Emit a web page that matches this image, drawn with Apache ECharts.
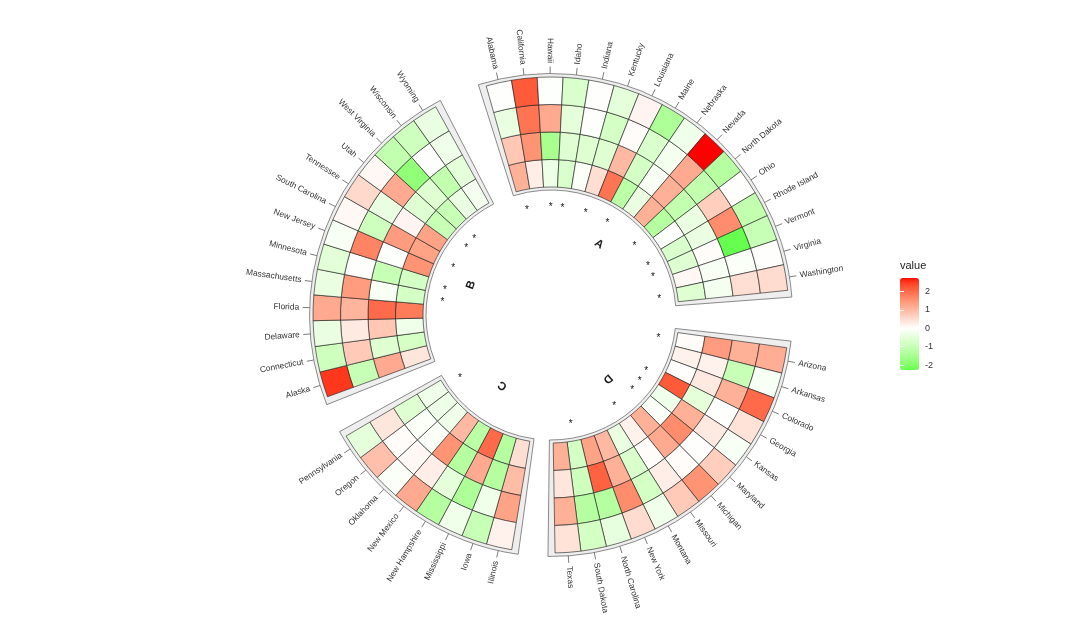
<!DOCTYPE html>
<html>
<head>
<meta charset="utf-8">
<style>html,body{margin:0;padding:0;background:#fff;}#chart{width:1080px;height:628px;}</style>
<script src="https://cdn.jsdelivr.net/npm/echarts@6/dist/echarts.min.js"></script>
</head>
<body>
<div id="chart"></div>
<script>
// ---------------- DATA ----------------
// sectors in clockwise order, states clockwise within each sector
const sectorNames = ['A', 'D', 'C', 'B'];
const statesA = ['Alabama','California','Hawaii','Idaho','Indiana','Kentucky','Louisiana','Maine','Nebraska','Nevada','North Dakota','Ohio','Rhode Island','Vermont','Virginia','Washington'];
const statesD = ['Arizona','Arkansas','Colorado','Georgia','Kansas','Maryland','Michigan','Missouri','Montana','New York','North Carolina','South Dakota','Texas'];
const statesC = ['Illinois','Iowa','Mississippi','New Hampshire','New Mexico','Oklahoma','Oregon','Pennsylvania'];
const statesB = ['Alaska','Connecticut','Delaware','Florida','Massachusetts','Minnesota','New Jersey','South Carolina','Tennessee','Utah','West Virginia','Wisconsin','Wyoming'];

// values per state: [ring1 (inner), ring2, ring3, ring4 (outer)]
const valuesA = [
  [1.1, 0.8, -0.4, 0.0],
  [0.25, 1.5, 1.9, 2.2],
  [-0.35, -1.5, 1.2, -0.05],
  [-0.7, -0.6, -0.5, -0.7],
  [-0.1, -0.6, 0.0, 0.0],
  [0.45, -0.6, -0.8, -0.5],
  [1.9, 1.0, 0.05, 0.15],
  [-1.2, -0.8, -0.7, -1.4],
  [-0.4, -0.15, -0.2, -0.3],
  [1.1, 1.1, 1.2, 2.73],
  [-1.3, -1.1, -1.1, -1.3],
  [-0.05, -0.4, 0.7, 0.0],
  [-0.7, -0.4, 1.6, -1.1],
  [-0.6, 0.05, -2.27, -1.0],
  [0.1, -0.15, -0.1, 0.0],
  [-0.6, -0.2, 0.45, 0.5]
];
const valuesD = [
  [0.05, 1.4, 1.1, 1.15],
  [0.2, 0.2, -1.0, -0.15],
  [0.0, 0.3, 1.1, 2.0],
  [2.2, -0.5, 0.0, 0.4],
  [-0.3, 1.1, 0.3, -0.15],
  [-0.1, 1.6, 0.0, 0.7],
  [1.1, 1.2, 0.05, 1.5],
  [0.2, 0.05, 0.25, 0.75],
  [-0.4, -0.7, -0.8, -0.3],
  [1.0, 1.1, 1.6, 0.5],
  [1.3, 2.1, -1.3, -0.45],
  [-0.8, -0.9, -1.3, -0.8],
  [1.1, 0.35, 1.1, 0.4]
];
const valuesC = [
  [0.45, 0.95, 1.3, 0.2],
  [-1.3, -1.3, -0.3, -1.0],
  [2.0, 1.2, -1.4, -0.3],
  [-1.2, -1.3, -0.5, -1.3],
  [1.0, 1.5, 0.25, 1.2],
  [-0.3, -0.1, 0.1, -0.1],
  [-0.35, -0.1, 0.05, 0.9],
  [-0.3, -0.6, 0.35, -0.5]
];
const valuesB = [
  [0.35, 1.2, -1.0, 2.5],
  [-0.8, -0.6, 0.75, -0.9],
  [-0.3, 0.8, 0.3, -0.4],
  [1.8, 2.0, 1.05, 1.2],
  [-0.8, -0.15, 1.4, -0.4],
  [-0.8, -1.0, 0.0, -0.55],
  [1.5, -0.05, 1.7, -0.15],
  [1.3, 1.4, -0.9, 0.1],
  [1.3, 0.15, -0.4, 0.55],
  [-1.0, -0.6, 1.2, 0.1],
  [-1.0, -0.6, -1.8, -1.1],
  [-0.4, -1.1, 0.0, -0.9],
  [-0.2, -0.5, -0.3, -0.4]
];
// states marked with an asterisk
const starredStates = ['Alabama','Hawaii','Idaho','Kentucky','Maine','North Dakota','Rhode Island','Vermont','Washington',
  'Arizona','Georgia','Kansas','Maryland','Missouri','South Dakota','Pennsylvania',
  'Massachusetts','Minnesota','South Carolina','Utah','West Virginia'];
const legendTicks = [-2, -1, 0, 1, 2];
const valueMin = -2.27, valueMax = 2.73;

// ---------------- LAYOUT ----------------
const FONT = 'Liberation Sans, Arial, sans-serif';
const layout = {
  cx: 551, cy: 315, rIn: 128, ringW: 27.5, nRings: 4,
  slice: 6.24,
  start: { A: -15.8, D: 97.9, C: 189.5, B: 249.9 },
  bgPad: 1.7
};
const rUnit = px => (px - layout.rIn) / layout.ringW; // pixel radius -> ring units

const sectorStates = { A: statesA, D: statesD, C: statesC, B: statesB };
const sectorValues = { A: valuesA, D: valuesD, C: valuesC, B: valuesB };

const cellData = [];
const stateItems = [];
const bgData = [];
const letterData = [];
sectorNames.forEach(function (s) {
  const st = sectorStates[s], vals = sectorValues[s], a0s = layout.start[s];
  st.forEach(function (name, k) {
    const a0 = a0s + k * layout.slice, a1 = a0 + layout.slice;
    for (let j = 0; j < layout.nRings; j++) {
      cellData.push([j, a0, a1, vals[k][j]]);
    }
    stateItems.push({ name: name, bearing: (a0 + a1) / 2 });
  });
  const aEnd = a0s + st.length * layout.slice;
  bgData.push([rUnit(125), a0s - layout.bgPad, rUnit(241.5), aEnd + layout.bgPad]);
  letterData.push([rUnit(85.5), (a0s + aEnd) / 2, s]);
});
const labelData = stateItems.map(d => [rUnit(241.5), d.bearing]);
const starData = stateItems.filter(d => starredStates.indexOf(d.name) >= 0).map(d => [rUnit(109.5), d.bearing]);

// ---------------- COLOUR SCALE (Lab interpolation, white midpoint) ----------------
function s2l(c) { c /= 255; return c <= 0.04045 ? c / 12.92 : Math.pow((c + 0.055) / 1.055, 2.4); }
function l2s(c) { const v = c <= 0.0031308 ? 12.92 * c : 1.055 * Math.pow(c, 1 / 2.4) - 0.055; return Math.round(Math.max(0, Math.min(1, v)) * 255); }
function rgb2lab(rgb) {
  const R = s2l(rgb[0]), G = s2l(rgb[1]), B = s2l(rgb[2]);
  const X = (0.4124564 * R + 0.3575761 * G + 0.1804375 * B) / 0.95047;
  const Y = (0.2126729 * R + 0.7151522 * G + 0.0721750 * B);
  const Z = (0.0193339 * R + 0.1191920 * G + 0.9503041 * B) / 1.08883;
  const f = t => t > 0.008856 ? Math.cbrt(t) : (7.787 * t + 16 / 116);
  const fx = f(X), fy = f(Y), fz = f(Z);
  return [116 * fy - 16, 500 * (fx - fy), 200 * (fy - fz)];
}
function lab2rgb(lab) {
  const fy = (lab[0] + 16) / 116, fx = fy + lab[1] / 500, fz = fy - lab[2] / 200;
  const fi = t => t * t * t > 0.008856 ? t * t * t : (t - 16 / 116) / 7.787;
  const X = fi(fx) * 0.95047, Y = fi(fy), Z = fi(fz) * 1.08883;
  const R = 3.2404542 * X - 1.5371385 * Y - 0.4985314 * Z;
  const G = -0.9692660 * X + 1.8760108 * Y + 0.0415560 * Z;
  const B = 0.0556434 * X - 0.2040259 * Y + 1.0572252 * Z;
  return 'rgb(' + l2s(R) + ',' + l2s(G) + ',' + l2s(B) + ')';
}
const LAB_W = rgb2lab([255, 255, 255]), LAB_HI = rgb2lab([255, 0, 0]), LAB_LO = rgb2lab([0, 255, 0]);
const maxAbs = Math.max(Math.abs(valueMin), Math.abs(valueMax));
function gradient2(v) {
  const t = Math.min(1, Math.abs(v) / maxAbs), end = v >= 0 ? LAB_HI : LAB_LO;
  return lab2rgb([0, 1, 2].map(i => LAB_W[i] + (end[i] - LAB_W[i]) * t));
}
const colorStops = [];
for (let i = 0; i <= 80; i++) colorStops.push(gradient2(valueMin + (valueMax - valueMin) * i / 80));

// ---------------- helpers ----------------
function sectorShape(params, api, r0v, r1v, a0, a1) {
  const cs = params.coordSys, cx = cs.cx, cy = cs.cy;
  const p0 = api.coord([r0v, a0]), p1 = api.coord([r1v, a1]);
  const r0 = Math.hypot(p0[0] - cx, p0[1] - cy), r = Math.hypot(p1[0] - cx, p1[1] - cy);
  const sa = Math.atan2(p0[1] - cy, p0[0] - cx);
  let ea = Math.atan2(p1[1] - cy, p1[0] - cx);
  while (ea <= sa) ea += 2 * Math.PI;
  return { cx: cx, cy: cy, r0: r0, r: r, startAngle: sa, endAngle: ea, clockwise: true };
}

const option = {
  backgroundColor: '#ffffff',
  animation: false,
  polar: { center: [layout.cx, layout.cy], radius: [0, layout.rIn + layout.nRings * layout.ringW] },
  angleAxis: { type: 'value', min: 0, max: 360, startAngle: 90, clockwise: true, show: false },
  radiusAxis: { type: 'value', min: rUnit(0), max: layout.nRings, show: false },
  grid: { left: 900, top: 278, width: 19, height: 92 },
  xAxis: { type: 'value', show: false },
  yAxis: [
    { type: 'value', min: valueMin, max: valueMax, position: 'right', z: 10,
      axisLine: { show: false }, splitLine: { show: false },
      axisTick: { show: true, inside: true, length: 4, lineStyle: { color: '#ffffff', width: 1 }, customValues: legendTicks },
      axisLabel: { show: true, customValues: legendTicks, margin: 6, fontSize: 9, color: '#333', fontFamily: FONT } },
    { type: 'value', min: valueMin, max: valueMax, position: 'left', z: 10,
      axisLine: { show: false }, splitLine: { show: false },
      axisTick: { show: true, inside: true, length: 4, lineStyle: { color: '#ffffff', width: 1 }, customValues: legendTicks },
      axisLabel: { show: false } }
  ],
  visualMap: [{
    type: 'continuous', min: valueMin, max: valueMax, dimension: 3, seriesIndex: 1,
    calculable: false, hoverLink: false, orient: 'vertical', left: 900, top: 278,
    itemWidth: 19, itemHeight: 92, padding: 0, inRange: { color: colorStops }
  }],
  graphic: [{ type: 'text', left: 900, top: 260, style: { text: 'value', fontSize: 11, fill: '#222', fontFamily: FONT } }],
  series: [
    { // sector backgrounds
      type: 'custom', coordinateSystem: 'polar', silent: true, z: 1,
      data: bgData,
      renderItem: function (params, api) {
        const shape = sectorShape(params, api, api.value(0), api.value(2), api.value(1), api.value(3));
        return { type: 'sector', shape: shape, style: { fill: '#eeeeee', stroke: '#6e6e6e', lineWidth: 0.8 } };
      }
    },
    { // heatmap cells
      type: 'custom', coordinateSystem: 'polar', silent: true, z: 2,
      dimensions: ['ring', 'a0', 'a1', 'value'],
      encode: { radius: 0, angle: 1 },
      data: cellData,
      renderItem: function (params, api) {
        const ring = api.value(0);
        const shape = sectorShape(params, api, ring, ring + 1, api.value(1), api.value(2));
        return { type: 'sector', shape: shape, style: { fill: api.visual('color'), stroke: '#1a1a1a', lineWidth: 0.6 } };
      }
    },
    { // state ticks + labels
      type: 'custom', coordinateSystem: 'polar', silent: true, z: 3,
      data: labelData,
      renderItem: function (params, api) {
        const b = api.value(1), item = stateItems[params.dataIndex];
        const t0 = api.coord([rUnit(241.5), b]), t1 = api.coord([rUnit(248.5), b]), tp = api.coord([rUnit(252), b]);
        const bn = ((b % 360) + 360) % 360;
        const right = bn < 180;
        const rot = (right ? (90 - bn) : (270 - bn)) * Math.PI / 180;
        return { type: 'group', children: [
          { type: 'line', shape: { x1: t0[0], y1: t0[1], x2: t1[0], y2: t1[1] }, style: { stroke: '#444', lineWidth: 0.7 } },
          { type: 'text', x: tp[0], y: tp[1], rotation: rot,
            style: { text: item.name, fill: '#333', fontSize: 8.4, fontFamily: FONT, align: right ? 'left' : 'right', verticalAlign: 'middle' } }
        ] };
      }
    },
    { // significance stars
      type: 'custom', coordinateSystem: 'polar', silent: true, z: 3,
      data: starData,
      renderItem: function (params, api) {
        const p = api.coord([api.value(0), api.value(1)]);
        return { type: 'text', x: p[0], y: p[1] + 2, style: { text: '*', fill: '#111', fontSize: 10, fontFamily: FONT, align: 'center', verticalAlign: 'middle' } };
      }
    },
    { // sector letters
      type: 'custom', coordinateSystem: 'polar', silent: true, z: 3,
      data: letterData,
      renderItem: function (params, api) {
        const b = api.value(1);
        const p = api.coord([api.value(0), b]);
        return { type: 'text', x: p[0], y: p[1], rotation: -b * Math.PI / 180,
          style: { text: sectorNames[params.dataIndex], fill: '#1a1a1a', fontSize: 11.5, fontWeight: 'bold', fontFamily: FONT, align: 'center', verticalAlign: 'middle' } };
      }
    },
    { type: 'line', xAxisIndex: 0, yAxisIndex: 0, data: [], silent: true }
  ]
};

const chart = echarts.init(document.getElementById('chart'), null, { renderer: 'canvas' });
chart.setOption(option);
</script>
</body>
</html>
